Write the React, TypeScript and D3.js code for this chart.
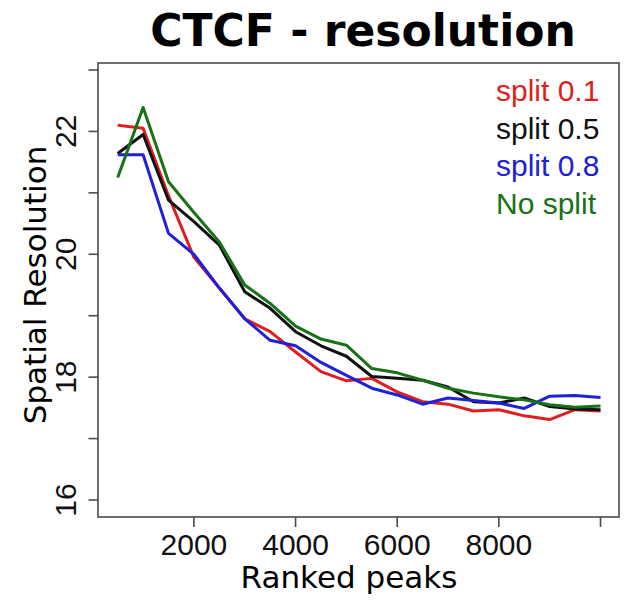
import React from "react";
import * as d3 from "d3";

const peaks = [500, 1000, 1500, 2000, 2500, 3000, 3500, 4000, 4500, 5000, 5500, 6000, 6500, 7000, 7500, 8000, 8500, 9000, 9500, 10000];
const split01 = [22.1, 22.05, 20.95, 19.95, 19.45, 18.95, 18.74, 18.41, 18.09, 17.94, 17.98, 17.76, 17.6, 17.56, 17.45, 17.47, 17.37, 17.31, 17.47, 17.45];
const split05 = [21.64, 21.95, 20.88, 20.53, 20.15, 19.39, 19.12, 18.74, 18.51, 18.34, 18.01, 17.98, 17.95, 17.84, 17.6, 17.58, 17.66, 17.52, 17.48, 17.47];
const split08 = [21.62, 21.62, 20.34, 20.0, 19.45, 18.95, 18.6, 18.51, 18.24, 18.03, 17.82, 17.71, 17.56, 17.66, 17.62, 17.58, 17.49, 17.69, 17.7, 17.67];
const noSplit = [21.25, 22.39, 21.18, 20.68, 20.2, 19.5, 19.2, 18.83, 18.62, 18.52, 18.14, 18.07, 17.95, 17.82, 17.74, 17.68, 17.63, 17.55, 17.51, 17.53];

const seriesNames = ["split 0.1", "split 0.5", "split 0.8", "No split"];
const seriesColors = ["#dd1f1f", "#111111", "#2020d8", "#177217"];
const xTicks = [2000, 4000, 6000, 8000, 10000];
const xTickLabels = ["2000", "4000", "6000", "8000", ""];
const yTicks = [16, 17, 18, 19, 20, 21, 22, 23];
const yTickLabels = ["16", "", "18", "", "20", "", "22", ""];

export default function App() {
  const W = 624, H = 601;
  const box = { left: 98, right: 619, top: 63, bottom: 517 };
  const x = d3.scaleLinear().domain([0, 10000]).range([92.3, 600.5]);
  const y = d3.scaleLinear().domain([16, 23]).range([500, 70]);
  const all = [split01, split05, split08, noSplit];
  const line = d3.line<number>().x((_, i) => x(peaks[i])).y((v) => y(v));
  const axisColor = "#4a4a4a";
  const sans = "'Liberation Sans', Arial, sans-serif";
  const dv = "'DejaVu Sans', sans-serif";
  return (
    <svg width={W} height={H} style={{ position: "absolute", left: 0, top: 0, background: "#fff" }}>
      <rect x={0} y={0} width={W} height={H} fill="#fff" />
      <text x={363} y={46} textAnchor="middle" fontFamily={dv} fontWeight="bold" fontSize={44} fill="#000">
        CTCF - resolution
      </text>
      <rect x={box.left} y={box.top} width={box.right - box.left} height={box.bottom - box.top} fill="none" stroke={axisColor} strokeWidth={1.6} />
      {xTicks.map((t, i) => (
        <g key={"xt" + t}>
          <line x1={x(t)} x2={x(t)} y1={box.bottom} y2={box.bottom + 10} stroke={axisColor} strokeWidth={1.6} />
          <text x={x(t)} y={555} textAnchor="middle" fontFamily={sans} fontSize={30} fill="#111">
            {xTickLabels[i]}
          </text>
        </g>
      ))}
      {yTicks.map((t, i) => (
        <g key={"yt" + t}>
          <line x1={box.left - 9.5} x2={box.left} y1={y(t)} y2={y(t)} stroke={axisColor} strokeWidth={1.6} />
          <text transform={`translate(76,${y(t)}) rotate(-90)`} textAnchor="middle" fontFamily={sans} fontSize={30} fill="#111">
            {yTickLabels[i]}
          </text>
        </g>
      ))}
      <text x={349} y={588} textAnchor="middle" fontFamily={dv} fontSize={31} fill="#000">
        Ranked peaks
      </text>
      <text transform={`translate(46,285) rotate(-90)`} textAnchor="middle" fontFamily={dv} fontSize={31} fill="#000">
        Spatial Resolution
      </text>
      {all.map((s, i) => (
        <path key={"l" + i} d={line(s) || ""} fill="none" stroke={seriesColors[i]} strokeWidth={3} strokeLinejoin="round" />
      ))}
      {seriesNames.map((n, i) => (
        <text key={"lg" + i} x={496} y={101 + i * 37.5} fontFamily={sans} fontSize={30} fill={seriesColors[i]}>
          {n}
        </text>
      ))}
    </svg>
  );
}
